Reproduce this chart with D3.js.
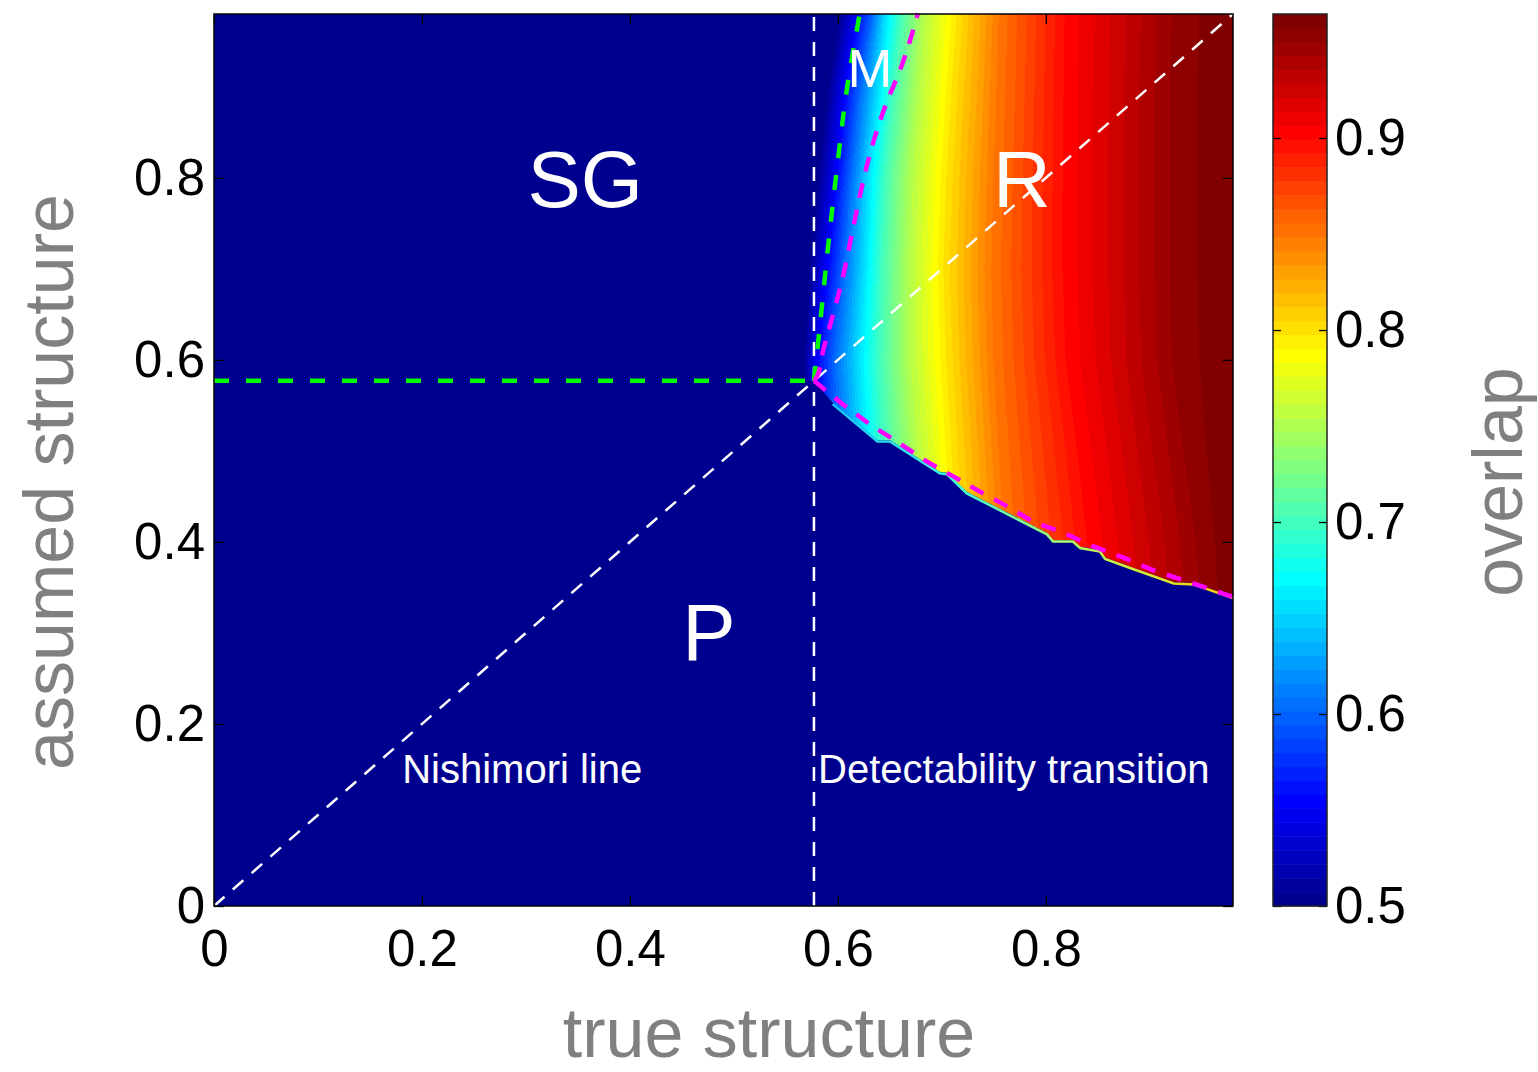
<!DOCTYPE html>
<html lang="en">
<head>
  <meta charset="UTF-8">
  <title>Overlap phase diagram</title>
  <script src="https://d3js.org/d3.v7.min.js"></script>
  <style>
    body { margin: 0; background: #fff; }
    svg { display: block; font-family: 'Liberation Sans', Arial, Helvetica, sans-serif; }
    .tick line { stroke: #000; stroke-width: 1.3; }
  </style>
</head>
<body>
<script>
  // overlap contour levels, and the x where each contour crosses a given row (y)
  var levels = [0.5, 0.55, 0.6, 0.65, 0.7, 0.75, 0.8, 0.85, 0.9, 0.95, 0.963];
  var rowY = [0.98, 0.90, 0.80, 0.70, 0.60, 0.50, 0.40, 0.33];
  var crossX = [
    [.600, .618, .633, .644, .660, .681, .716, .756, .819, .921, .968],
    [.589, .606, .621, .637, .653, .676, .711, .754, .818, .919, .966],
    [.579, .597, .612, .627, .645, .669, .706, .751, .817, .919, .966],
    [.571, .588, .605, .623, .642, .667, .703, .749, .817, .919, .966],
    [.566, .579, .596, .617, .640, .667, .706, .751, .820, .921, .968],
    [.566, .578, .600, .621, .644, .673, .711, .756, .831, .932, .972],
    [.566, .578, .602, .623, .650, .679, .716, .761, .841, .944, .977],
    [.566, .578, .602, .625, .652, .683, .719, .766, .847, .948, .980]
  ];

  // lower edge of the coloured region (as in the data, slightly jagged)
  var edgeLower = [[.577,.577],[.595,.553],[.638,.512],[.650,.512],[.698,.477],[.705,.476],
    [.724,.455],[.801,.410],[.807,.402],[.826,.402],[.833,.395],[.852,.391],[.857,.383],
    [.881,.373],[.923,.356],[.942,.355],[.980,.340]];

  // theory lines
  var greenUpper = [[.577,.577],[.581,.619],[.586,.674],[.591,.729],[.599,.809],[.609,.900],[.621,.980]];
  var greenFlat = [[0,.577],[.577,.577]];
  var magentaUpper = [[.577,.577],[.580,.582],[.586,.611],[.595,.648],[.605,.692],[.615,.747],
    [.624,.795],[.634,.839],[.647,.883],[.660,.919],[.677,.981]];
  var magentaLower = [[.577,.577],[.605,.551],[.631,.529],[.657,.510],[.686,.488],[.711,.472],
    [.737,.455],[.763,.439],[.788,.422],[.817,.410],[.846,.395],[.874,.383],[.903,.369],
    [.932,.358],[.961,.347],[.979,.340]];
  var nishimori = [[0,0],[.98,.98]];
  var detect = [[.577,0],[.577,.98]];

  var axisTicks = [0, 0.2, 0.4, 0.6, 0.8];
  var cbarTicks = [0.5, 0.6, 0.7, 0.8, 0.9];
  var cRange = [0.5, 0.9646];

  var labels = [
    {t: 'SG', x: .357, y: .768, s: 80, a: 'middle'},
    {t: 'R', x: .777, y: .768, s: 80, a: 'middle'},
    {t: 'P', x: .476, y: .270, s: 80, a: 'middle'},
    {t: 'M', x: .631, y: .900, s: 54, a: 'middle'},
    {t: 'Nishimori line', x: .181, y: .135, s: 40, a: 'start'},
    {t: 'Detectability transition', x: .581, y: .135, s: 40, a: 'start'}
  ];

  var W = 1538, H = 1072;
  var L = 214, R = 1233, T = 14, B = 906;
  var navy = 'rgb(0,0,143)';

  var x = d3.scaleLinear().domain([0, 0.98]).range([L, R]);
  var y = d3.scaleLinear().domain([0, 0.98]).range([B, T]);
  var c = d3.scaleLinear().domain(cRange).range([B, T]);

  // MATLAB style jet, 64 entries
  var nSteps = 64, dv = (cRange[1] - cRange[0]) / nSteps;
  function jetIndex(k) {
    var t = (k + 1) / 64;
    function cl(a) { return Math.round(255 * Math.max(0, Math.min(1, a))); }
    return 'rgb(' + cl(Math.min(4 * t - 1.5, 4.5 - 4 * t)) + ',' +
      cl(Math.min(4 * t - 0.5, 3.5 - 4 * t)) + ',' + cl(Math.min(4 * t + 0.5, 2.5 - 4 * t)) + ')';
  }

  var svg = d3.select('body').append('svg').attr('width', W).attr('height', H);
  var defs = svg.append('defs');

  svg.append('rect').attr('x', L).attr('y', T).attr('width', R - L).attr('height', B - T).attr('fill', navy);

  var line = d3.line().x(function(d) { return x(d[0]); }).y(function(d) { return y(d[1]); });

  // clip for the coloured field: above the lower edge
  var clipPts = [[.55, .98], [.98, .98]].concat(edgeLower.slice().reverse()).concat([[.55, .577]]);
  defs.append('clipPath').attr('id', 'fieldClip')
    .append('path').attr('d', line(clipPts) + 'Z');

  // contour positions along one pixel row
  function crossAt(yv) {
    for (var i = 0; i < rowY.length - 1; i++) {
      if (yv <= rowY[i] && yv >= rowY[i + 1]) {
        var f = (rowY[i] - yv) / (rowY[i] - rowY[i + 1]);
        return crossX[i].map(function(cx, k) { return cx + f * (crossX[i + 1][k] - cx); });
      }
    }
    return crossX[yv > rowY[0] ? 0 : rowY.length - 1];
  }
  // x where the overlap reaches v, between the contours of that row
  function xAt(v, cr) {
    if (v <= levels[0]) return cr[0];
    for (var i = 0; i < levels.length - 1; i++) {
      if (v <= levels[i + 1]) {
        return cr[i] + (v - levels[i]) / (levels[i + 1] - levels[i]) * (cr[i + 1] - cr[i]);
      }
    }
    var n = levels.length;
    return cr[n - 1] + (v - levels[n - 1]) / (levels[n - 1] - levels[n - 2]) * (cr[n - 1] - cr[n - 2]);
  }

  var field = svg.append('g').attr('clip-path', 'url(#fieldClip)');
  var x0 = x(0.55), x1 = x(0.98);
  var step = 4;
  var strips = d3.range(y(rowY[0]), y(rowY[rowY.length - 1]), step);
  function off(px) { return Math.max(0, Math.min(1, (px - x0) / (x1 - x0))); }
  strips.forEach(function(py, i) {
    var cr = crossAt(y.invert(py + step / 2));
    var grad = defs.append('linearGradient').attr('id', 'row' + i)
      .attr('gradientUnits', 'userSpaceOnUse')
      .attr('x1', x0).attr('x2', x1).attr('y1', 0).attr('y2', 0);
    grad.append('stop').attr('offset', 0).attr('stop-color', navy);
    for (var k = 0; k < nSteps; k++) {
      var a = off(x(xAt(cRange[0] + k * dv, cr)));
      var b = off(x(xAt(cRange[0] + (k + 1) * dv, cr)));
      var col = jetIndex(k);
      grad.append('stop').attr('offset', a).attr('stop-color', col);
      grad.append('stop').attr('offset', b).attr('stop-color', col);
    }
    field.append('rect')
      .attr('x', x0).attr('y', py).attr('width', x1 - x0).attr('height', step + 0.6)
      .attr('fill', 'url(#row' + i + ')');
  });

  // thin lighter rim along the lower edge
  var rim = defs.append('linearGradient').attr('id', 'rim')
    .attr('gradientUnits', 'userSpaceOnUse').attr('x1', x(.58)).attr('x2', x(.98)).attr('y1', 0).attr('y2', 0);
  [['0', '#10c0ff'], ['0.35', '#40ffd0'], ['0.6', '#b0ff60'], ['1', '#ffd000']].forEach(function(s) {
    rim.append('stop').attr('offset', s[0]).attr('stop-color', s[1]);
  });
  svg.append('path').attr('d', line(edgeLower.slice(1))).attr('fill', 'none')
    .attr('stroke', 'url(#rim)').attr('stroke-width', 2.5).attr('transform', 'translate(0,1.5)');

  // white guide lines
  [nishimori, detect].forEach(function(d) {
    svg.append('path').attr('d', line(d)).attr('fill', 'none')
      .attr('stroke', '#fff').attr('stroke-width', 2.5).attr('stroke-dasharray', '14,11');
  });

  // green and magenta theory curves
  var smooth = d3.line().curve(d3.curveMonotoneY).x(function(d) { return x(d[0]); }).y(function(d) { return y(d[1]); });
  svg.append('path').attr('d', line(greenFlat)).attr('fill', 'none')
    .attr('stroke', '#00ff00').attr('stroke-width', 4.5).attr('stroke-dasharray', '15,17');
  svg.append('path').attr('d', smooth(greenUpper)).attr('fill', 'none')
    .attr('stroke', '#00ff00').attr('stroke-width', 4.5).attr('stroke-dasharray', '15,17');
  svg.append('path').attr('d', smooth(magentaUpper)).attr('fill', 'none')
    .attr('stroke', '#ff00ff').attr('stroke-width', 4.5).attr('stroke-dasharray', '15,12');
  svg.append('path').attr('d', line(magentaLower)).attr('fill', 'none')
    .attr('stroke', '#ff00ff').attr('stroke-width', 4.5).attr('stroke-dasharray', '15,12');

  // region labels
  svg.append('g').selectAll('text').data(labels).join('text')
    .attr('x', function(d) { return x(d.x); })
    .attr('y', function(d) { return y(d.y); })
    .attr('text-anchor', function(d) { return d.a; })
    .attr('font-size', function(d) { return d.s; })
    .attr('fill', '#fff')
    .text(function(d) { return d.t; });

  // axes: ticks inward on all sides
  var fmt = function(d) { return String(d); };
  var gx = svg.append('g').attr('transform', 'translate(0,' + B + ')')
    .call(d3.axisBottom(x).tickValues(axisTicks).tickSizeInner(-10).tickSizeOuter(0).tickPadding(24).tickFormat(fmt));
  var gy = svg.append('g').attr('transform', 'translate(' + L + ',0)')
    .call(d3.axisLeft(y).tickValues(axisTicks).tickSizeInner(-10).tickSizeOuter(0).tickPadding(9).tickFormat(fmt));
  var gt = svg.append('g').attr('transform', 'translate(0,' + T + ')')
    .call(d3.axisTop(x).tickValues(axisTicks).tickSizeInner(-10).tickSizeOuter(0).tickFormat(''));
  var gr = svg.append('g').attr('transform', 'translate(' + R + ',0)')
    .call(d3.axisRight(y).tickValues(axisTicks).tickSizeInner(-10).tickSizeOuter(0).tickFormat(''));
  [gx, gy, gt, gr].forEach(function(g) {
    g.select('.domain').remove();
    g.selectAll('text').attr('font-size', 51).attr('fill', '#000').attr('font-family', null);
  });
  svg.append('rect').attr('x', L).attr('y', T).attr('width', R - L).attr('height', B - T)
    .attr('fill', 'none').attr('stroke', '#000').attr('stroke-width', 1.5);

  // colour bar
  var CL = 1273, CR = 1327;
  svg.append('g').selectAll('rect').data(d3.range(nSteps)).join('rect')
    .attr('x', CL).attr('width', CR - CL)
    .attr('y', function(k) { return c(cRange[0] + (k + 1) * dv); })
    .attr('height', function(k) { return c(cRange[0] + k * dv) - c(cRange[0] + (k + 1) * dv) + 0.5; })
    .attr('fill', function(k) { return jetIndex(k); });
  var cr = svg.append('g').attr('transform', 'translate(' + CR + ',0)')
    .call(d3.axisRight(c).tickValues(cbarTicks).tickSizeInner(-8).tickSizeOuter(0).tickPadding(8).tickFormat(fmt));
  var cl = svg.append('g').attr('transform', 'translate(' + CL + ',0)')
    .call(d3.axisLeft(c).tickValues(cbarTicks).tickSizeInner(-8).tickSizeOuter(0).tickFormat(''));
  [cr, cl].forEach(function(g) {
    g.select('.domain').remove();
    g.selectAll('text').attr('font-size', 51).attr('fill', '#000').attr('font-family', null);
  });
  svg.append('rect').attr('x', CL).attr('y', T).attr('width', CR - CL).attr('height', B - T)
    .attr('fill', 'none').attr('stroke', '#222').attr('stroke-width', 1.5);

  // axis titles
  svg.append('text').attr('x', 769).attr('y', 1057).attr('text-anchor', 'middle')
    .attr('font-size', 70).attr('fill', '#808080').text('true structure');
  svg.append('text').attr('transform', 'translate(73,482) rotate(-90)').attr('text-anchor', 'middle')
    .attr('font-size', 70).attr('fill', '#808080').text('assumed structure');
  svg.append('text').attr('transform', 'translate(1522,482) rotate(-90)').attr('text-anchor', 'middle')
    .attr('font-size', 70).attr('fill', '#808080').text('overlap');
</script>
</body>
</html>
